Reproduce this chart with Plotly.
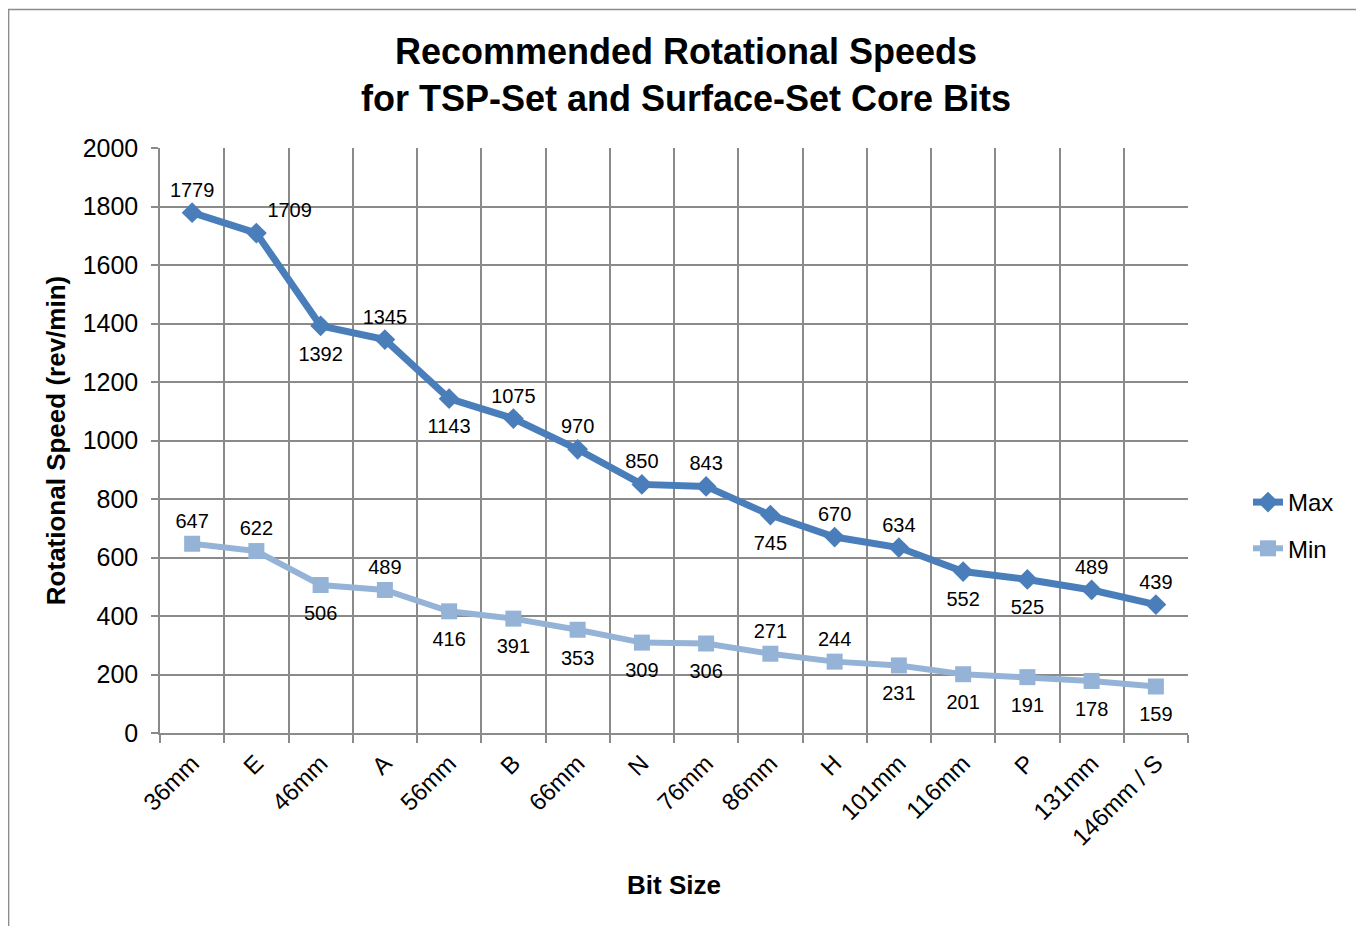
import plotly.graph_objects as go

categories = ["36mm", "E", "46mm", "A", "56mm", "B", "66mm", "N", "76mm",
              "86mm", "H", "101mm", "116mm", "P", "131mm", "146mm / S"]
max_speed = [1779, 1709, 1392, 1345, 1143, 1075, 970, 850, 843, 745, 670, 634, 552, 525, 489, 439]
min_speed = [647, 622, 506, 489, 416, 391, 353, 309, 306, 271, 244, 231, 201, 191, 178, 159]

max_label_pos = ["top center", "top right", "bottom center", "top center", "bottom center",
                 "top center", "top center", "top center", "top center", "bottom center",
                 "top center", "top center", "bottom center", "bottom center", "top center",
                 "top center"]
min_label_pos = ["top center", "top center", "bottom center", "top center", "bottom center",
                 "bottom center", "bottom center", "bottom center", "bottom center", "top center",
                 "top center", "bottom center", "bottom center", "bottom center", "bottom center",
                 "bottom center"]

FONT = "Liberation Sans, Arial, sans-serif"
GRID = "#8a8a8a"
MAX_C = "#4a7ebb"
MIN_C = "#95b3d7"


def label_gap(positions):
    # invisible marker sizes that set the label distance from each point
    return [30 if p.startswith("bottom") else 16 for p in positions]


fig = go.Figure()
for name, vals, pos, color, width, sym, grp in [
    ("Max", max_speed, max_label_pos, MAX_C, 7, "diamond", "a"),
    ("Min", min_speed, min_label_pos, MIN_C, 6, "square", "b"),
]:
    fig.add_trace(go.Scatter(
        x=categories, y=vals, name=name, mode="lines+markers",
        line=dict(color=color, width=width),
        marker=dict(symbol=sym, size=16, color=color, line=dict(width=0)),
        legendgroup=grp,
    ))
    fig.add_trace(go.Scatter(
        x=categories, y=vals, name=name + " labels", mode="markers+text",
        marker=dict(size=label_gap(pos), color="rgba(0,0,0,0)", opacity=0,
                    line=dict(width=0, color="rgba(0,0,0,0)")),
        text=[str(v) for v in vals], textposition=pos,
        textfont=dict(family=FONT, size=20, color="black"),
        showlegend=False, hoverinfo="skip", legendgroup=grp,
    ))

# page offset (browser body margin)
OFF = 8
W, H = 1364 - OFF, 926 - OFF
PL, PR, PT, PB = 160, 1188, 148, 733  # plot area in page pixels
L, T = PL - OFF, PT - OFF
R, B = W - (PR - OFF), H - (PB - OFF)
pw, ph = PR - PL, PB - PT


def px2x(px):
    return (px - PL) / pw


def py2y(py):
    return (PB - py) / ph


fig.add_shape(type="rect", xref="paper", yref="paper",
              x0=px2x(8.6), x1=px2x(1362.5), y0=py2y(980), y1=py2y(9.5),
              line=dict(color="#8c8c8c", width=1.5), fillcolor="rgba(0,0,0,0)", layer="below")

fig.update_layout(
    width=W, height=H,
    margin=dict(l=L, r=R, t=T, b=B, autoexpand=False),
    paper_bgcolor="white", plot_bgcolor="white",
    font=dict(family=FONT, color="black"),
    title=dict(text="<b>Recommended Rotational Speeds<br>for TSP-Set and Surface-Set Core Bits</b>",
               font=dict(family=FONT, size=36, color="black"),
               x=(686 - OFF) / W, xanchor="center", xref="container",
               y=1 - (64 - OFF) / H, yanchor="middle", yref="container"),
    showlegend=True,
    legend=dict(x=px2x(1248), xanchor="left", y=py2y(480), yanchor="top",
                font=dict(family=FONT, size=24, color="black"),
                tracegroupgap=12, bgcolor="rgba(0,0,0,0)", borderwidth=0),
)

fig.update_xaxes(
    type="category", tickson="boundaries", showgrid=True, gridcolor=GRID, gridwidth=1.5,
    ticks="outside", ticklen=8, tickcolor=GRID, tickwidth=1.5,
    showline=True, linecolor=GRID, linewidth=1.5,
    tickangle=-45, tickfont=dict(family=FONT, size=24, color="black"), ticklabelstandoff=5,
    title=dict(text="<b>Bit Size</b>", font=dict(family=FONT, size=26, color="black"), standoff=26),
    range=[-0.5, len(categories) - 0.5],
)
fig.update_yaxes(
    range=[0, 2000], dtick=200, showgrid=True, gridcolor=GRID, gridwidth=1.5,
    ticks="outside", ticklen=7, tickcolor=GRID, tickwidth=1.5,
    showline=True, linecolor=GRID, linewidth=1.5, zeroline=False,
    tickfont=dict(family=FONT, size=25, color="black"), ticklabelstandoff=8,
    title=dict(text="<b>Rotational Speed (rev/min)</b>", font=dict(family=FONT, size=26, color="black"), standoff=10),
)

fig.write_html("out.html")
